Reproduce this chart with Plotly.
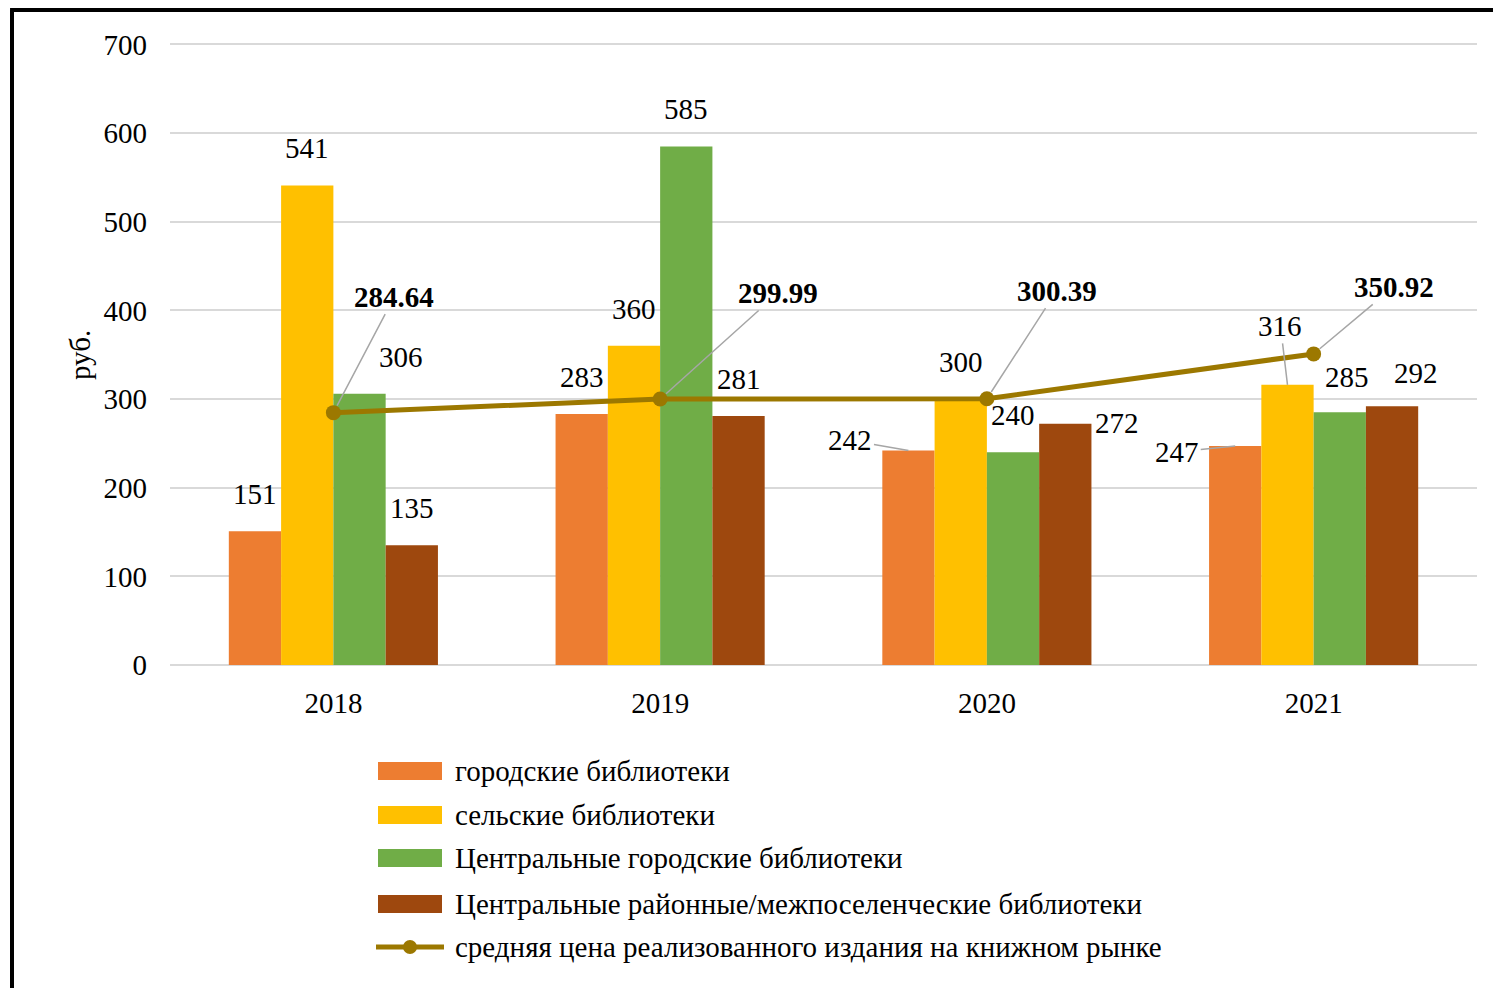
import plotly.graph_objects as go

years = ["2018", "2019", "2020", "2021"]
city = [151, 283, 242, 247]
rural = [541, 360, 300, 316]
central_city = [306, 585, 240, 285]
central_district = [135, 281, 272, 292]
avg_price = [284.64, 299.99, 300.39, 350.92]

names = [
    "городские библиотеки",
    "сельские библиотеки",
    "Центральные городские библиотеки",
    "Центральные районные/межпоселенческие библиотеки",
    "средняя цена реализованного издания на книжном рынке",
]
colors = ["#ED7D31", "#FFC000", "#70AD47", "#9E480E"]
line_color = "#9C7800"
FONT = "Liberation Serif"
FS = 29

# page has an 8px body margin, so the figure is a bit smaller than the window
OFF = 8
W, H = 1501 - OFF, 988 - OFF
L, R, T, B = 170 - OFF, 24, 40 - OFF, 323
pw, ph = W - L - R, H - T - B


def px(x, y):
    # window pixel position -> paper coords (frame and legend only)
    return (x - OFF - L) / pw, (H - B - (y - OFF)) / ph


bar_w = 0.16
fig = go.Figure()
series = [city, rural, central_city, central_district]
for k, vals in enumerate(series):
    fig.add_trace(go.Bar(
        x=list(range(len(years))), y=vals, name=names[k],
        marker=dict(color=colors[k], line=dict(width=0)),
        width=bar_w, offset=-2 * bar_w + k * bar_w, showlegend=False,
    ))

fig.add_trace(go.Scatter(
    x=list(range(len(years))), y=avg_price, name=names[4], mode="lines+markers",
    line=dict(color=line_color, width=5), marker=dict(size=15, color=line_color),
    showlegend=False,
))

# bar value labels: (xshift, yshift) or leader line (ax, ay)
label_style = {
    (0, 2): dict(xshift=41),
    (2, 0): dict(arrow=(-58, -10)),
    (2, 3): dict(xshift=52, yshift=1),
    (3, 0): dict(arrow=(-58, 6)),
    (3, 1): dict(arrow=(-7, -59)),
    (3, 2): dict(xshift=7, yshift=35),
    (3, 3): dict(xshift=24, yshift=33),
}
for k, vals in enumerate(series):
    for i, v in enumerate(vals):
        xc = i - 1.5 * bar_w + k * bar_w
        st = label_style.get((i, k), {})
        if "arrow" in st:
            ax, ay = st["arrow"]
            fig.add_annotation(x=xc, y=v, text=str(v), showarrow=True, arrowhead=0,
                               arrowwidth=1.5, arrowcolor="#A6A6A6", ax=ax, ay=ay,
                               standoff=0, font=dict(family=FONT, size=FS, color="#000"))
        else:
            fig.add_annotation(x=xc, y=v, text=str(v), showarrow=False,
                               xshift=st.get("xshift", 0), yshift=st.get("yshift", 37),
                               font=dict(family=FONT, size=FS, color="#000"))

line_offsets = [(61, -116), (118, -106), (70, -108), (80, -67)]
for i, v in enumerate(avg_price):
    ax, ay = line_offsets[i]
    fig.add_annotation(x=i, y=v, text="<b>%.2f</b>" % v, showarrow=True, arrowhead=0,
                       arrowwidth=1.5, arrowcolor="#A6A6A6", ax=ax, ay=ay, standoff=8,
                       font=dict(family=FONT, size=FS, color="#000"))

# y axis title
tx, ty = px(80, 355)
fig.add_annotation(xref="paper", yref="paper", x=tx, y=ty, text="руб.", textangle=-90,
                   xanchor="center", yanchor="middle", showarrow=False,
                   font=dict(family=FONT, size=FS, color="#000"))

# manual legend
legend_y = [771, 815, 858, 904, 947]
shapes = []
for k, yy in enumerate(legend_y):
    if k < 4:
        x0, y0 = px(378, yy - 9)
        x1, y1 = px(442, yy + 9)
        shapes.append(dict(type="rect", xref="paper", yref="paper", x0=x0, x1=x1,
                           y0=y1, y1=y0, fillcolor=colors[k], line=dict(width=0)))
    else:
        x0, y0 = px(376, yy)
        x1, _ = px(444, yy)
        shapes.append(dict(type="line", xref="paper", yref="paper", x0=x0, x1=x1,
                           y0=y0, y1=y0, line=dict(color=line_color, width=5)))
        r = 7
        a0, b0 = px(410 - r, yy - r)
        a1, b1 = px(410 + r, yy + r)
        shapes.append(dict(type="circle", xref="paper", yref="paper", x0=a0, x1=a1,
                           y0=b1, y1=b0, fillcolor=line_color, line=dict(width=0)))
    lx, ly = px(453, yy)
    fig.add_annotation(xref="paper", yref="paper", x=lx, y=ly, xanchor="left",
                       yanchor="middle", text=names[k], showarrow=False,
                       font=dict(family=FONT, size=FS, color="#000"))

# black frame (top and left)
fx0, fy0 = px(12, 10)
fx1, fy1 = px(1501, 988)
shapes.append(dict(type="line", xref="paper", yref="paper", x0=fx0 - 0.0015, x1=fx1,
                   y0=fy0, y1=fy0, line=dict(color="#000", width=4)))
shapes.append(dict(type="line", xref="paper", yref="paper", x0=fx0, x1=fx0, y0=fy0, y1=fy1,
                   line=dict(color="#000", width=4)))

fig.update_layout(
    width=W, height=H,
    margin=dict(l=L, r=R, t=T, b=B),
    plot_bgcolor="white", paper_bgcolor="white",
    font=dict(family=FONT, size=FS, color="#000"),
    shapes=shapes,
    showlegend=False,
    xaxis=dict(range=[-0.5, 3.5], tickvals=list(range(len(years))), ticktext=years,
               showgrid=False, zeroline=False, showline=False, ticks="",
               ticklabelstandoff=18, tickfont=dict(family=FONT, size=FS)),
    yaxis=dict(range=[0, 705], tickvals=[0, 100, 200, 300, 400, 500, 600, 700],
               showgrid=True, gridcolor="#D9D9D9", gridwidth=2,
               zeroline=True, zerolinecolor="#D9D9D9", zerolinewidth=2, ticks="",
               ticklabelstandoff=22, tickfont=dict(family=FONT, size=FS)),
)

fig.write_html("out.html")
